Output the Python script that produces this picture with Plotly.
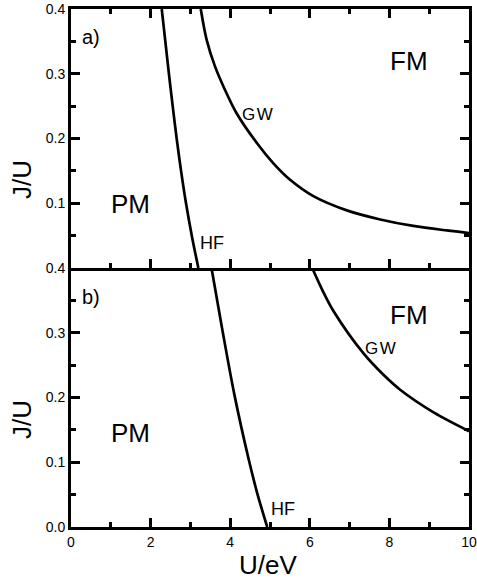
import plotly.graph_objects as go

# Panel a) curves
U_hf_a = [2.28, 2.37, 2.46, 2.555, 2.655, 2.765, 2.89, 3.035, 3.20]
J_hf_a = [0.40, 0.35, 0.30, 0.25, 0.20, 0.15, 0.10, 0.05, 0.0]
U_gw_a = [3.26, 3.41, 3.62, 3.87, 4.16, 4.67, 5.08, 5.49, 6.09, 6.93, 7.77, 8.60, 9.44, 10.0]
J_gw_a = [0.40, 0.352, 0.311, 0.275, 0.239, 0.193, 0.162, 0.137, 0.111, 0.089, 0.075, 0.065, 0.058, 0.054]

# Panel b) curves
U_hf_b = [3.53, 3.79, 4.10, 4.47, 4.68, 4.93]
J_hf_b = [0.40, 0.309, 0.206, 0.103, 0.052, 0.0]
U_gw_b = [6.06, 6.33, 6.59, 7.35, 7.85, 8.27, 9.11, 10.0]
J_gw_b = [0.40, 0.364, 0.334, 0.268, 0.235, 0.212, 0.177, 0.148]

x_ticks = [0, 2, 4, 6, 8, 10]
y_ticks_a = [0.1, 0.2, 0.3, 0.4]
y_ticks_b = [0.0, 0.1, 0.2, 0.3, 0.4]

FONT = "Liberation Sans, Arial, Helvetica, sans-serif"
line_style = dict(color="black", width=2.7, shape="spline", smoothing=0.9)

fig = go.Figure()
fig.add_trace(go.Scatter(x=U_hf_a, y=J_hf_a, xaxis="x2", yaxis="y2", mode="lines",
                         line=line_style, showlegend=False, hoverinfo="skip"))
fig.add_trace(go.Scatter(x=U_gw_a, y=J_gw_a, xaxis="x2", yaxis="y2", mode="lines",
                         line=line_style, showlegend=False, hoverinfo="skip"))
fig.add_trace(go.Scatter(x=U_hf_b, y=J_hf_b, xaxis="x", yaxis="y", mode="lines",
                         line=line_style, showlegend=False, hoverinfo="skip"))
fig.add_trace(go.Scatter(x=U_gw_b, y=J_gw_b, xaxis="x", yaxis="y", mode="lines",
                         line=line_style, showlegend=False, hoverinfo="skip"))

common_axis = dict(showline=True, linecolor="black", linewidth=3, showgrid=False,
                   zeroline=False, ticks="inside", ticklen=9, tickwidth=3,
                   tickcolor="black", automargin=False,
                   tickfont=dict(family=FONT, size=14, color="black"))
minor_x = dict(dtick=1, ticks="inside", ticklen=5, tickwidth=3, tickcolor="black")
minor_y = dict(dtick=0.05, ticks="inside", ticklen=5, tickwidth=3, tickcolor="black")

fig.update_layout(
    width=477, height=580,
    margin=dict(l=71, r=8, t=9, b=53),
    paper_bgcolor="white", plot_bgcolor="white",
    xaxis=dict(common_axis, domain=[0, 1], anchor="y", range=[0, 10],
               tickvals=x_ticks, ticktext=[str(v) for v in x_ticks],
               mirror=False, minor=minor_x),
    yaxis=dict(common_axis, domain=[0, 0.5], anchor="x", range=[0, 0.4],
               tickvals=y_ticks_b, ticktext=["%.1f" % v for v in y_ticks_b],
               mirror="ticks", minor=minor_y),
    xaxis2=dict(common_axis, domain=[0, 1], anchor="y2", range=[0, 10],
                tickvals=x_ticks, showticklabels=False, mirror="ticks",
                minor=minor_x),
    yaxis2=dict(common_axis, domain=[0.5, 1], anchor="x2", range=[0, 0.4],
                tickvals=y_ticks_a, ticktext=["%.1f" % v for v in y_ticks_a],
                mirror="ticks", minor=minor_y),
)

ann = []
def lab(text, x, y, size, xref="x", yref="y", xanchor="center"):
    ann.append(dict(text=text, x=x, y=y, xref=xref, yref=yref, showarrow=False,
                    xanchor=xanchor, yanchor="middle",
                    font=dict(family=FONT, size=size, color="black")))

HS = "\u200a"
# panel a
lab("a)", 0.22, 0.357, 20, "x2", "y2", "left")
lab("PM", 1.5, 0.099, 26, "x2", "y2")
lab("FM", 8.5, 0.32, 26, "x2", "y2")
lab("G" + HS + "W", 4.25, 0.237, 17, "x2", "y2", "left")
lab("HF", 3.2, 0.039, 18, "x2", "y2", "left")
# panel b
lab("b)", 0.22, 0.355, 20, "x", "y", "left")
lab("PM", 1.5, 0.145, 26, "x", "y")
lab("FM", 8.5, 0.327, 26, "x", "y")
lab("G" + HS + "W", 7.33, 0.276, 17, "x", "y", "left")
lab("HF", 4.97, 0.028, 18, "x", "y", "left")

# axis titles
ann.append(dict(text="J/U", x=-0.123, y=0.670, xref="paper", yref="paper", showarrow=False,
                textangle=-90, xanchor="center", yanchor="middle",
                font=dict(family=FONT, size=26, color="black")))
ann.append(dict(text="J/U", x=-0.123, y=0.2066, xref="paper", yref="paper", showarrow=False,
                textangle=-90, xanchor="center", yanchor="middle",
                font=dict(family=FONT, size=26, color="black")))
ann.append(dict(text="U/eV", x=0.494, y=-0.0734, xref="paper", yref="paper", showarrow=False,
                xanchor="center", yanchor="middle",
                font=dict(family=FONT, size=26, color="black")))
fig.update_layout(annotations=ann)

fig.write_html("out.html", config={"displayModeBar": False},
               post_script="document.body.style.margin='0';document.body.style.overflow='hidden';")
